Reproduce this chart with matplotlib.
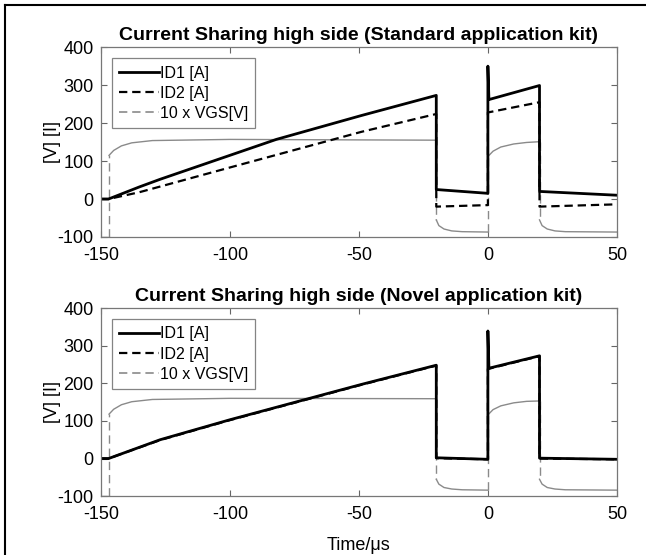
import matplotlib
matplotlib.use("Agg")
import matplotlib.pyplot as plt
from matplotlib.lines import Line2D

plt.rcParams["font.family"] = ["Liberation Sans", "DejaVu Sans"]
plt.rcParams["lines.scale_dashes"] = False
plt.rcParams["axes.unicode_minus"] = False

# ---- data (time in us) ----
# top panel: standard application kit
STD_T_ID1 = [-150, -147, -135, -127, -82, -49, -20, -20, 0, 0, 0.4, 20, 20, 50]
STD_ID1 = [0, 0, 32, 52, 157, 220, 273, 25, 15, 350, 262, 299, 20, 10]
STD_T_ID2 = [-150, -147, -135, -100, -49, -20, -20, 0, 0, 20, 20, 50]
STD_ID2 = [0, 0, 18, 83, 177, 224, -20, -16, 228, 255, -20, -14]
STD_T_VGS = [-150, -146.8, -146.8, -145, -142, -138, -130, -100, -20, -20, -19, -17,
             -14, -10, 0, 0, 2, 5, 10, 15, 20, 20, 21, 23, 26, 30, 50]
STD_VGS = [-100, -100, 115, 128, 140, 148, 154, 157, 155, -55, -70, -79,
           -84, -86, -87, 112, 126, 137, 145, 149, 151, -55, -70, -79, -84, -86, -87]

# bottom panel: novel application kit
NOV_T_ID1 = [-150, -147, -127, -100, -49, -20, -20, 0, 0, 0.4, 20, 20, 50]
NOV_ID1 = [0, 0, 50, 103, 197, 248, 2, -2, 339, 240, 273, 1, -2]
NOV_T_ID2 = [-150, -147, -127, -100, -49, -20, -20, 0, 0, 20, 20, 50]
NOV_ID2 = [0, 0, 49, 102, 196, 247, 1, -2, 238, 272, 0, -2]
NOV_T_VGS = [-150, -146.8, -146.8, -145, -142, -138, -130, -100, -20, -20, -19, -17,
             -14, -10, 0, 0, 2, 5, 10, 15, 20, 20, 21, 23, 26, 30, 50]
NOV_VGS = [-100, -100, 118, 131, 143, 151, 157, 160, 159, -55, -68, -77,
           -81, -83, -84, 116, 130, 140, 148, 152, 153, -55, -68, -77, -81, -83, -84]

X_TICKS = [-150, -100, -50, 0, 50]
Y_TICKS = [-100, 0, 100, 200, 300, 400]
TITLES = ["Current Sharing high side (Standard application kit)",
          "Current Sharing high side (Novel application kit)"]
LABELS = ["ID1 [A]", "ID2 [A]", "10 x VGS[V]"]

GRAY = "#8a8a8a"
DASH = (6, 3.5)


def split_steps(t, v):
    """Split a trace into smooth runs and vertical steps (same time)."""
    runs, cur_t, cur_v = [], [t[0]], [v[0]]
    for i in range(1, len(t)):
        if t[i] == t[i - 1]:
            if len(cur_t) > 1:
                runs.append((cur_t, cur_v, False))
            runs.append(([t[i - 1], t[i]], [v[i - 1], v[i]], True))
            cur_t, cur_v = [t[i]], [v[i]]
        else:
            cur_t.append(t[i]); cur_v.append(v[i])
    if len(cur_t) > 1:
        runs.append((cur_t, cur_v, False))
    return runs


def draw_panel(ax, title, t1, id1, t2, id2, tv, vgs):
    for ts, vs, step in split_steps(tv, vgs):
        if step:
            ax.plot(ts, vs, color=GRAY, lw=1.0, dashes=DASH)
        else:
            ax.plot(ts, vs, color=GRAY, lw=1.0)
    ax.plot(t2, id2, color="black", lw=1.6, dashes=DASH)
    ax.plot(t1, id1, color="black", lw=2.0)

    ax.set_xlim(-150, 50)
    ax.set_ylim(-100, 400)
    ax.set_xticks(X_TICKS)
    ax.set_yticks(Y_TICKS)
    ax.tick_params(direction="in", top=True, right=True, length=4,
                   labelsize=13, color="#666666")
    ax.tick_params(axis="x", pad=7)
    ax.tick_params(axis="y", pad=5)
    for s in ax.spines.values():
        s.set_color("#777777"); s.set_linewidth(0.9)
    ax.set_title(title, fontsize=14, fontweight="bold", pad=5)
    ax.set_ylabel("[V] [I]", fontsize=13, labelpad=-2.5)

    handles = [Line2D([], [], color="black", lw=2.0),
               Line2D([], [], color="black", lw=1.6, dashes=DASH),
               Line2D([], [], color=GRAY, lw=1.2, dashes=DASH)]
    leg = ax.legend(handles, LABELS, loc="upper left", fontsize=11.5,
                    frameon=True, fancybox=False, edgecolor="#666666",
                    handlelength=2.5, handletextpad=0.05, borderpad=0.45,
                    labelspacing=0.32, borderaxespad=0.7)
    leg.get_frame().set_linewidth(0.9)


fig = plt.figure(figsize=(6.46, 5.55), dpi=100)
ax1 = fig.add_axes([0.156, 0.573, 0.799, 0.342])
ax2 = fig.add_axes([0.156, 0.106, 0.799, 0.339])

draw_panel(ax1, TITLES[0], STD_T_ID1, STD_ID1, STD_T_ID2, STD_ID2, STD_T_VGS, STD_VGS)
draw_panel(ax2, TITLES[1], NOV_T_ID1, NOV_ID1, NOV_T_ID2, NOV_ID2, NOV_T_VGS, NOV_VGS)
ax2.set_xlabel("Time/μs", fontsize=13, labelpad=10)

# picture frame (top and left edge only, as in the reference)
fig.add_artist(Line2D([0.008, 0.008], [0.0, 0.991], transform=fig.transFigure,
                      color="black", lw=1.5))
fig.add_artist(Line2D([0.008, 1.0], [0.991, 0.991], transform=fig.transFigure,
                      color="black", lw=1.5))

fig.savefig("out.png", dpi=100)
